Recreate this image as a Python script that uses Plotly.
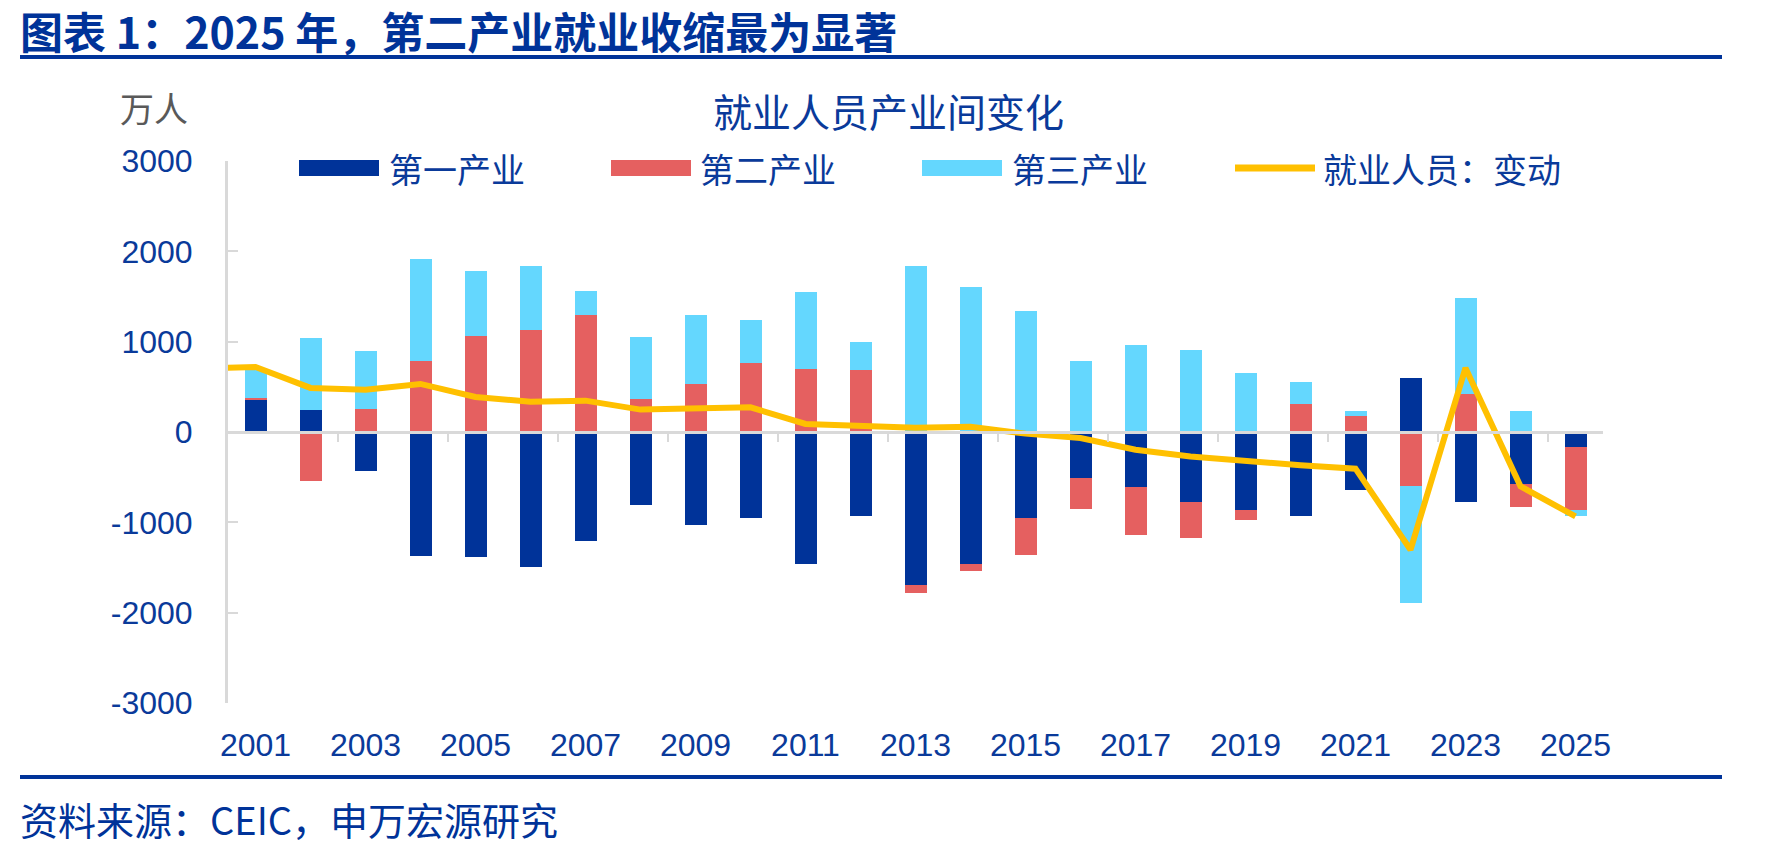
import plotly.graph_objects as go

# ---------------- data ----------------
years = list(range(2001, 2026))
primary = [362, 240, -432, -1374, -1385, -1496, -1208, -805, -1031, -953, -1459, -931,
           -1692, -1459, -949, -506, -610, -776, -861, -931, -639, 598, -776, -573, -163]
secondary = [15, -543, 251, 783, 1060, 1134, 1293, 369, 528, 761, 702, 691,
             -85, -85, -414, -347, -531, -402, -118, 307, 174, -602, 417, -254, -698]
tertiary = [323, 798, 647, 1127, 717, 702, 266, 684, 772, 484, 853, 310,
            1836, 1607, 1345, 787, 964, 912, 654, 251, 59, -1286, 1061, 233, -74]
line_years = list(range(2000, 2026))
total_change = [705, 720, 488, 469, 532, 388, 336, 347, 248, 262, 273, 89, 66, 48, 59,
                -18, -66, -196, -270, -325, -369, -406, -1304, 709, -602, -935]
tick_years = list(range(2001, 2026, 2))
boundary_ticks = [y + 0.5 for y in range(2002, 2025, 2)]
y_ticks = [-3000, -2000, -1000, 0, 1000, 2000, 3000]
y_ticktext = ["-3000", "-2000", "-1000", "0", "1000", "2000", "3000"]
series_names = ["第一产业", "第二产业", "第三产业", "就业人员：变动"]

# ---------------- style ----------------
C_BLUE = "#003399"
C_RED = "#E56060"
C_CYAN = "#64D7FE"
C_YEL = "#FFC000"
C_GRAY = "#D9D9D9"
TXT = "#0A3A9A"
CJK = "Noto Sans CJK SC"
LAT = "Liberation Sans, Arial"

W, H = 1779, 852
L, R, T, B = 228, 1603, 161, 703
YMIN, YMAX = -3000, 3000


def px(x):
    return (x - L) / (R - L)


def py(y):
    return (B - y) / (B - T)


fig = go.Figure()
for name, vals, col in zip(series_names[:3], [primary, secondary, tertiary], [C_BLUE, C_RED, C_CYAN]):
    fig.add_trace(go.Bar(x=years, y=vals, name=name, marker=dict(color=col, line=dict(width=0)),
                         width=0.4, showlegend=False))
fig.add_trace(go.Scatter(x=line_years, y=total_change, name=series_names[3], mode="lines",
                         line=dict(color=C_YEL, width=6), showlegend=False))

shapes = []
zero_p = (0 - YMIN) / (YMAX - YMIN)
for t in boundary_ticks:
    shapes.append(dict(type="line", xref="x", yref="paper", x0=t, x1=t,
                       y0=zero_p, y1=zero_p - 10 / (B - T), line=dict(color=C_GRAY, width=2)))
# header / footer rules
shapes.append(dict(type="line", xref="paper", yref="paper", x0=px(20), x1=px(1722),
                   y0=py(57), y1=py(57), line=dict(color=C_BLUE, width=4)))
shapes.append(dict(type="line", xref="paper", yref="paper", x0=px(20), x1=px(1722),
                   y0=py(777), y1=py(777), line=dict(color=C_BLUE, width=4)))

annotations = []
# custom legend
leg_y = 168
swatches = [(299, 379, C_BLUE, 387), (611, 691, C_RED, 698), (922, 1002, C_CYAN, 1010)]
for (x0, x1, col, tx), name in zip(swatches, series_names[:3]):
    shapes.append(dict(type="rect", xref="paper", yref="paper", x0=px(x0), x1=px(x1),
                       y0=py(leg_y + 8), y1=py(leg_y - 8), fillcolor=col, line=dict(width=0)))
    annotations.append(dict(text=name, xref="paper", yref="paper", x=px(tx), y=py(leg_y),
                            xanchor="left", yanchor="middle", showarrow=False,
                            font=dict(family=CJK, size=34, color=TXT)))
shapes.append(dict(type="line", xref="paper", yref="paper", x0=px(1235), x1=px(1315),
                   y0=py(leg_y), y1=py(leg_y), line=dict(color=C_YEL, width=7)))
annotations.append(dict(text=series_names[3], xref="paper", yref="paper", x=px(1321), y=py(leg_y),
                        xanchor="left", yanchor="middle", showarrow=False,
                        font=dict(family=CJK, size=34, color=TXT)))
# titles and texts
annotations.append(dict(text="图表 1：2025 年，第二产业就业收缩最为显著", xref="paper", yref="paper",
                        x=px(18), y=py(30), xanchor="left", yanchor="middle", showarrow=False,
                        font=dict(family=CJK, size=43, color=C_BLUE, weight="bold")))
annotations.append(dict(text="就业人员产业间变化", xref="paper", yref="paper",
                        x=px(888), y=py(110), xanchor="center", yanchor="middle", showarrow=False,
                        font=dict(family=CJK, size=39, color=TXT)))
annotations.append(dict(text="万人", xref="paper", yref="paper",
                        x=px(118), y=py(107), xanchor="left", yanchor="middle", showarrow=False,
                        font=dict(family=CJK, size=34, color="#595959")))
annotations.append(dict(text="资料来源：CEIC，申万宏源研究", xref="paper", yref="paper",
                        x=px(18), y=py(818), xanchor="left", yanchor="middle", showarrow=False,
                        font=dict(family=CJK, size=38, color=C_BLUE)))

fig.update_layout(
    width=W, height=H,
    margin=dict(l=L, r=W - R, t=T, b=H - B),
    paper_bgcolor="white", plot_bgcolor="white",
    barmode="relative", bargap=0,
    showlegend=False,
    shapes=shapes, annotations=annotations,
    xaxis=dict(range=[2000.5, 2025.5], tickvals=tick_years, ticktext=[str(y) for y in tick_years],
               showgrid=False, zeroline=False, showline=False, ticks="",
               tickfont=dict(family=LAT, size=32, color=TXT), ticklabelstandoff=20),
    yaxis=dict(range=[YMIN, YMAX], tickvals=y_ticks, ticktext=y_ticktext, showgrid=False,
               zeroline=True, zerolinecolor=C_GRAY, zerolinewidth=3, zerolinelayer="above traces",
               showline=True, linecolor=C_GRAY, linewidth=3,
               ticks="inside", ticklen=10, tickwidth=2, tickcolor=C_GRAY,
               tickfont=dict(family=LAT, size=32, color=TXT), ticklabelstandoff=26),
)

fig.write_html("out.html")
